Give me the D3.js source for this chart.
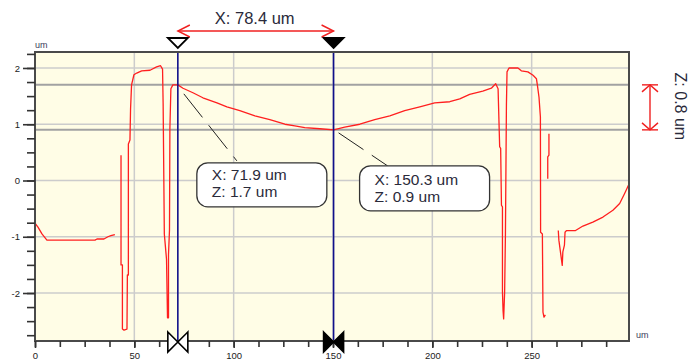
<!DOCTYPE html>
<html>
<head>
<meta charset="utf-8">
<script src="https://cdn.jsdelivr.net/npm/d3@7"></script>
<style>
    html, body { margin: 0; padding: 0; background: #fff; }
    svg { display: block; font-family: "Liberation Sans", Arial, sans-serif; }
</style>
</head>
<body>
<div id="chart"></div>
<script>
/* === Surface profile with two cursors (D3.js v7) === */

// profile position along the scan (um); null in profileZ marks a gap
var profileX = [
    0, 1.5, 3.5, 6.0, 30.2, 31.2, 34.7, 36.7, 38.2, 40.2, 41.5,
    43.3, 43.3, 44.0, 44.0, 44.8, 46.3, 46.5, 47.0, 47.0, 47.8, 48.1, 48.6, 49.8, 51.2, 53.7,
    57.9, 61.2, 63.2, 64.2, 64.5, 65.1, 66.2, 66.7, 67.2, 67.2, 67.7, 67.9, 68.4, 69.4, 71.9,
    74.5, 79.5, 84.5, 91.6, 96.6, 103.1, 110.7, 118.2, 125.8, 130.8, 135.8, 143.4, 150.3,
    155.9, 163.5, 171.0, 178.6, 186.1, 193.7, 201.2, 208.8, 213.8, 218.8, 225.4, 229.7, 231.9,
    233.1, 233.9, 234.4, 234.8, 235.3, 235.3, 235.6, 235.9, 236.4, 236.8, 237.3, 237.6, 238.6,
    243.1, 244.8, 248.1, 250.7, 252.4, 252.9, 253.7, 254.4, 254.5, 255.4, 255.7, 256.2, 256.9,
    257.5,
    258.7, 258.7, 258.1, 258.1,
    260.0,
    263.4, 263.7, 265.4, 265.7, 266.5, 266.8, 267.5, 272.1, 275.8, 280.8, 285.9, 290.9,
    294.3, 296.8, 298.9
];
// height (um)
var profileZ = [
    -0.76, -0.83, -0.95, -1.06, -1.06, -1.04, -1.04, -1.00, -0.98, -0.96, null,
    0.45, -1.50, -1.50, -2.64, -2.66, -2.64, -1.68, -1.68, 0.65, 0.72, 1.27, 1.70, 1.88, 1.91, 1.95,
    1.96, 2.02, 2.04, 1.98, 1.36, -0.95, -1.40, -2.44, -2.44, -1.32, -0.88, 0.92, 1.63, 1.70, 1.70,
    1.64, 1.56, 1.47, 1.38, 1.31, 1.24, 1.15, 1.08, 1.00, 0.97, 0.94, 0.92, 0.90,
    0.95, 1.00, 1.08, 1.15, 1.24, 1.31, 1.38, 1.40, 1.45, 1.53, 1.59, 1.64, 1.72,
    1.63, 0.60, 0.57, -0.44, -0.47, -1.98, -2.31, -2.46, -1.98, -0.95, 1.34, 1.93, 2.00,
    2.00, 1.95, 1.93, 1.87, 1.81, 1.69, 1.48, 1.13, -0.92, -0.95, -2.34, -2.43, -2.39,
    null,
    0.83, 0.45, 0.42, 0.03,
    null,
    -0.89, -1.06, -1.51, -1.27, -1.15, -0.92, -0.89, -0.89, -0.81, -0.74, -0.65, -0.53,
    -0.41, -0.23, -0.07
];

var cursorX = [71.9, 150.3];
var cursorZ = [1.7, 0.9];
var xTickValues = [0, 50, 100, 150, 200, 250];
var yTickValues = [-2, -1, 0, 1, 2];
var unit = 'um';

var width = 691, height = 361;
var plot = { left: 35, top: 52, right: 629, bottom: 341 };
// where each callout box sits, relative to its cursor point
var calloutOffset = [{ dx: 19, dy: 78 }, { dx: 26, dy: 36 }];

var svg = d3.select('#chart')
    .append('svg')
    .attr('width', width)
    .attr('height', height);

var x = d3.scaleLinear().domain([0, 299]).range([plot.left, plot.right]);
var y = d3.scaleLinear().domain([-2.853, 2.284]).range([plot.bottom, plot.top]);

var points = profileX.map(function(px, i) { return { x: px, z: profileZ[i] }; });

// Background
svg.append('rect')
    .attr('x', plot.left).attr('y', plot.top)
    .attr('width', plot.right - plot.left).attr('height', plot.bottom - plot.top)
    .attr('fill', '#fffde6');

// Grid
var grid = svg.append('g');
grid.selectAll('line.gx')
    .data(xTickValues.filter(function(d) { return d > 0; }))
    .join('line')
    .attr('x1', function(d) { return x(d); }).attr('x2', function(d) { return x(d); })
    .attr('y1', plot.top).attr('y2', plot.bottom)
    .attr('stroke', '#cccccc').attr('stroke-width', 1.5);
grid.selectAll('line.gy')
    .data(yTickValues)
    .join('line')
    .attr('x1', plot.left).attr('x2', plot.right)
    .attr('y1', function(d) { return y(d); }).attr('y2', function(d) { return y(d); })
    .attr('stroke', '#cccccc').attr('stroke-width', 1.5);

// cursor height lines
svg.append('g').selectAll('line')
    .data(cursorZ)
    .join('line')
    .attr('x1', plot.left).attr('x2', plot.right)
    .attr('y1', function(d) { return y(d); }).attr('y2', function(d) { return y(d); })
    .attr('stroke', '#a2a2a2').attr('stroke-width', 2);

// Profile
var line = d3.line()
    .defined(function(d) { return d.z !== null; })
    .x(function(d) { return x(d.x); })
    .y(function(d) { return y(d.z); });

svg.append('path')
    .datum(points)
    .attr('d', line)
    .attr('fill', 'none')
    .attr('stroke', '#ff1f1f')
    .attr('stroke-width', 1.3)
    .attr('stroke-linejoin', 'round');

// Cursor verticals
svg.append('g').selectAll('line')
    .data(cursorX)
    .join('line')
    .attr('x1', function(d) { return x(d); }).attr('x2', function(d) { return x(d); })
    .attr('y1', plot.top).attr('y2', plot.bottom)
    .attr('stroke', '#10108a').attr('stroke-width', 1.6);

// Frame
svg.append('rect')
    .attr('x', plot.left).attr('y', plot.top)
    .attr('width', plot.right - plot.left).attr('height', plot.bottom - plot.top)
    .attr('fill', 'none')
    .attr('stroke', '#4a4a4a').attr('stroke-width', 2);

// Axes
function styleAxis(g, size) {
    g.select('.domain').remove();
    g.selectAll('.tick line').attr('stroke', '#333').attr('stroke-width', 1.6);
    g.selectAll('.tick text')
        .attr('fill', '#222')
        .style('font-family', '"Liberation Sans", Arial, sans-serif')
        .style('font-size', size + 'px');
}

svg.append('g')
    .attr('transform', 'translate(' + plot.left + ',0)')
    .call(d3.axisLeft(y).tickValues(d3.range(-2.75, 2.3, 0.25)).tickSize(8).tickFormat(''))
    .call(styleAxis, 9.5);
svg.append('g')
    .attr('transform', 'translate(' + plot.left + ',0)')
    .call(d3.axisLeft(y).tickValues(yTickValues).tickSize(12).tickPadding(3)
        .tickFormat(function(d) { return String(d); }))
    .call(styleAxis, 9.5);

svg.append('g')
    .attr('transform', 'translate(0,' + plot.bottom + ')')
    .call(d3.axisBottom(x).tickValues(d3.range(0, 299, 12.5)).tickSize(6).tickFormat(''))
    .call(styleAxis, 10);
svg.append('g')
    .attr('transform', 'translate(0,' + plot.bottom + ')')
    .call(d3.axisBottom(x).tickValues(xTickValues).tickSize(7).tickPadding(4)
        .tickFormat(function(d) { return String(d); }))
    .call(styleAxis, 9.5);

// unit labels
svg.append('text')
    .attr('x', plot.left).attr('y', plot.top - 4)
    .attr('font-size', 9).attr('fill', '#3a3a5a')
    .text(unit);
svg.append('text')
    .attr('x', plot.right + 7).attr('y', plot.bottom - 3)
    .attr('font-size', 9).attr('fill', '#3a3a5a')
    .text(unit);

// Callouts
var callouts = cursorX.map(function(cx, i) {
    return { cx: x(cx), cy: y(cursorZ[i]), xv: cx, zv: cursorZ[i], off: calloutOffset[i] };
});

var leaderEnds = [{ sx: 6, sy: 9, ex: 40, ey: -2 }, { sx: 5, sy: 3, ex: 28, ey: 0 }];

callouts.forEach(function(c, i) {
    var bx = c.cx + c.off.dx;
    var by = c.cy + c.off.dy;
    var le = leaderEnds[i];
    svg.append('line')
        .attr('x1', c.cx + le.sx).attr('y1', c.cy + le.sy)
        .attr('x2', bx + le.ex).attr('y2', by + le.ey)
        .attr('stroke', '#222').attr('stroke-width', 1)
        .attr('stroke-dasharray', '30,10');
    svg.append('rect')
        .attr('x', bx).attr('y', by)
        .attr('width', 130).attr('height', 44 + i)
        .attr('rx', 11).attr('ry', 11)
        .attr('fill', '#ffffff')
        .attr('stroke', '#333').attr('stroke-width', 1.3);
    var t = svg.append('text')
        .attr('font-size', 15.5).attr('fill', '#2a2a3a');
    t.append('tspan').attr('x', bx + 15).attr('y', by + 17 + i * 2)
        .text('X: ' + c.xv.toFixed(1) + ' ' + unit);
    t.append('tspan').attr('x', bx + 15).attr('y', by + 34 + i * 2)
        .text('Z: ' + c.zv.toFixed(1) + ' ' + unit);
});

// Cursor markers (top triangles, bottom bowties)
var markerFill = ['#ffffff', '#000000'];
cursorX.forEach(function(cx, i) {
    var px = x(cx);
    svg.append('path')
        .attr('d', 'M' + (px - 10) + ',38L' + (px + 10) + ',38L' + px + ',48Z')
        .attr('fill', markerFill[i]).attr('stroke', '#000').attr('stroke-width', 1.8)
        .attr('stroke-linejoin', 'miter');
    var cy = plot.bottom + 1;
    svg.append('path')
        .attr('d', 'M' + (px - 10) + ',' + (cy - 10) + 'L' + px + ',' + cy + 'L' + (px - 10) + ',' + (cy + 10) + 'Z' +
            'M' + (px + 10) + ',' + (cy - 10) + 'L' + px + ',' + cy + 'L' + (px + 10) + ',' + (cy + 10) + 'Z')
        .attr('fill', markerFill[i]).attr('stroke', '#000').attr('stroke-width', 1.6);
});

// X distance dimension
var red = '#f02020';
var x0 = x(cursorX[0]), x1 = x(cursorX[1]);
var dimY = 31;
var dim = svg.append('g').attr('stroke', red).attr('stroke-width', 1.4).attr('fill', 'none');
dim.append('line').attr('x1', x0).attr('x2', x1).attr('y1', dimY).attr('y2', dimY);
dim.append('path').attr('d', 'M' + (x0 + 12) + ',' + (dimY - 6) + 'L' + x0 + ',' + dimY + 'L' + (x0 + 12) + ',' + (dimY + 6));
dim.append('path').attr('d', 'M' + (x1 - 12) + ',' + (dimY - 6) + 'L' + x1 + ',' + dimY + 'L' + (x1 - 12) + ',' + (dimY + 6));

svg.append('text')
    .attr('x', (x0 + x1) / 2 - 1).attr('y', 23.5)
    .attr('text-anchor', 'middle')
    .attr('font-size', 16.5).attr('fill', '#2a2a3a')
    .text('X: ' + (cursorX[1] - cursorX[0]).toFixed(1) + ' ' + unit);

// Z height dimension
var z0 = y(cursorZ[0]), z1 = y(cursorZ[1]);
var dimX = 650;
var zd = svg.append('g').attr('stroke', red).attr('stroke-width', 1.4).attr('fill', 'none');
zd.append('line').attr('x1', dimX).attr('x2', dimX).attr('y1', z0).attr('y2', z1);
zd.append('line').attr('x1', dimX - 8).attr('x2', dimX + 8).attr('y1', z0).attr('y2', z0);
zd.append('line').attr('x1', dimX - 8).attr('x2', dimX + 8).attr('y1', z1).attr('y2', z1);
zd.append('path').attr('d', 'M' + (dimX - 8) + ',' + (z0 + 7) + 'L' + dimX + ',' + z0 + 'L' + (dimX + 8) + ',' + (z0 + 7));
zd.append('path').attr('d', 'M' + (dimX - 8) + ',' + (z1 - 7) + 'L' + dimX + ',' + z1 + 'L' + (dimX + 8) + ',' + (z1 - 7));

svg.append('text')
    .attr('transform', 'translate(675,' + ((z0 + z1) / 2 - 1) + ') rotate(90)')
    .attr('text-anchor', 'middle')
    .attr('font-size', 16).attr('fill', '#2a2a3a')
    .text('Z: ' + (cursorZ[0] - cursorZ[1]).toFixed(1) + ' ' + unit);
</script>
</body>
</html>
